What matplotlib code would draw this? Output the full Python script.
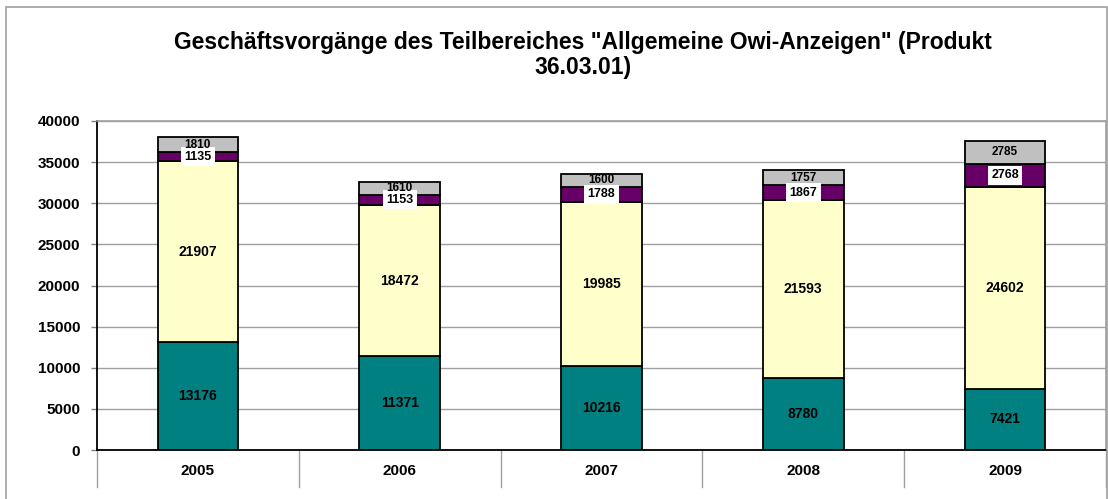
import matplotlib
matplotlib.use("Agg")
import matplotlib.pyplot as plt
from matplotlib.patches import Rectangle
from matplotlib.lines import Line2D
import numpy as np

years = ["2005", "2006", "2007", "2008", "2009"]
teal_vals = [13176, 11371, 10216, 8780, 7421]
yellow_vals = [21907, 18472, 19985, 21593, 24602]
purple_vals = [1135, 1153, 1788, 1867, 2768]
gray_vals = [1810, 1610, 1600, 1757, 2785]
yticks = [0, 5000, 10000, 15000, 20000, 25000, 30000, 35000, 40000]

title = 'Geschäftsvorgänge des Teilbereiches "Allgemeine Owi-Anzeigen" (Produkt\n36.03.01)'

plt.rcParams['font.family'] = ['Liberation Sans', 'DejaVu Sans']

fig = plt.figure(figsize=(11.08, 4.99), dpi=100)
ax = fig.add_axes([97/1108, 49/499, (1106-97)/1108, (450-121)/499])

x = np.arange(len(years))
w = 0.4
series = [(teal_vals, "#008080"), (yellow_vals, "#FFFFCC"), (purple_vals, "#660066"), (gray_vals, "#C0C0C0")]
bottom = np.zeros(len(years))
for si, (vals, col) in enumerate(series):
    vals = np.array(vals, dtype=float)
    ax.bar(x, vals, w, bottom=bottom, color=col, edgecolor="black", linewidth=1.3, zorder=3)
    for i, v in enumerate(vals):
        yc = bottom[i] + v / 2
        if si == 2:
            ax.text(x[i], yc, f"{int(v)}", ha="center", va="center", fontsize=9, fontweight="bold",
                    zorder=5, bbox=dict(facecolor="white", edgecolor="none", pad=2.5))
        elif si == 3:
            ax.text(x[i], yc, f"{int(v)}", ha="center", va="center", fontsize=8.5,
                    fontweight="bold", zorder=6)
        else:
            ax.text(x[i], yc, f"{int(v)}", ha="center", va="center", fontsize=10, fontweight="bold", zorder=5)
    bottom += vals

ax.set_xlim(-0.5, len(years) - 0.5)
ax.set_ylim(0, 40000)
ax.set_yticks(yticks)
ax.set_yticklabels([str(t) for t in yticks], fontsize=11, fontweight="bold")
ax.yaxis.grid(True, color="#A0A0A0", linewidth=1.0, zorder=0)
ax.set_axisbelow(True)
ax.tick_params(axis="y", length=4, width=1, color="#808080", pad=8)
ax.set_xticks(x)
ax.set_xticklabels(years, fontsize=11, fontweight="bold")
ax.tick_params(axis="x", length=0, pad=10)

for side in ["top", "right"]:
    ax.spines[side].set_color("#A0A0A0")
    ax.spines[side].set_linewidth(1.2)
ax.spines["left"].set_color("black")
ax.spines["left"].set_linewidth(1.3)
ax.spines["bottom"].set_color("black")
ax.spines["bottom"].set_linewidth(1.3)

# category separators below the axis
for b in np.arange(-0.5, len(years), 1.0):
    ax.add_line(Line2D([b, b], [0, -4500], color="#A0A0A0", linewidth=1.0, clip_on=False, zorder=1))

# outer chart frame
fig.patches.append(Rectangle((6/1108, -0.1), (1107-6)/1108, 1.1 - 7/499, transform=fig.transFigure,
                             fill=False, edgecolor="#A0A0A0", linewidth=1.2))

fig.text(583/1108, 1 - 55/499, title, ha="center", va="center", fontsize=16.5, fontweight="bold",
         linespacing=1.12)

fig.savefig("out.png", dpi=100)
